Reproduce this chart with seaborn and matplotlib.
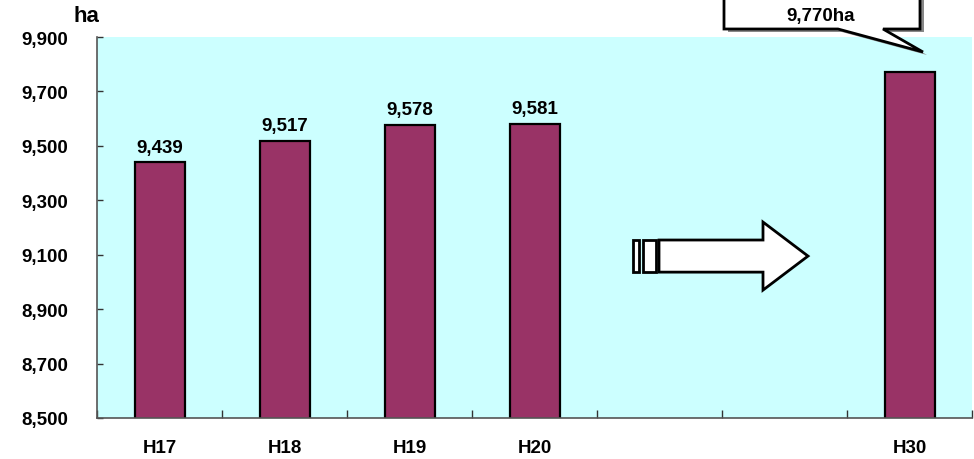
import matplotlib
matplotlib.use("Agg")
import matplotlib.pyplot as plt
import matplotlib.patches as mpatches
from matplotlib.ticker import FuncFormatter, FixedLocator
import seaborn as sns
import pandas as pd

# Planted area (ha) by fiscal year; two empty slots before the target year
slots = ["H17", "H18", "H19", "H20", "", " ", "H30"]
years = ["H17", "H18", "H19", "H20", "H30"]
area_ha = [9439, 9517, 9578, 9581, 9770]
target_label = "9,770ha"
unit_label = "ha"

df = pd.DataFrame({"year": years, "area": area_ha})

sns.set_theme(style="white")
plt.rcParams["font.family"] = ["Liberation Sans", "DejaVu Sans"]
plt.rcParams["font.weight"] = "bold"
plt.rcParams["text.color"] = "black"
plt.rcParams["xtick.color"] = "black"
plt.rcParams["ytick.color"] = "black"

FS = 13.5

W, H = 974, 460
fig = plt.figure(figsize=(W / 100, H / 100), dpi=100)
ax = fig.add_axes([97 / W, (H - 419) / H, (972 - 97) / W, (419 - 38) / H])
ax.set_facecolor("#CCFFFF")

sns.barplot(data=df, x="year", y="area", order=slots, color="#993366",
            saturation=1, width=0.4, edgecolor="black", linewidth=1.6, ax=ax)

ax.set_ylim(8500, 9900)
ax.set_xlim(-0.5, len(slots) - 0.5)
ax.set_yticks(range(8500, 9901, 200))
ax.yaxis.set_major_formatter(FuncFormatter(lambda v, p: f"{int(v):,}"))
ax.set_xlabel("")
ax.set_ylabel("")

# value labels for the historical years
for yr, v in zip(years, area_ha):
    if yr == "H30":
        continue
    ax.annotate(f"{v:,}", (slots.index(yr), v), xytext=(0, 5),
                textcoords="offset points", ha="center", va="bottom",
                fontsize=FS, fontweight="bold", color="black")

for s in ["top", "right"]:
    ax.spines[s].set_visible(False)
for s in ["left", "bottom"]:
    ax.spines[s].set_color("#555555")
    ax.spines[s].set_linewidth(1.2)

ax.tick_params(axis="y", direction="in", length=4, width=1, color="#333333",
               labelsize=FS, pad=21, left=True, labelcolor="black")
for lbl in ax.get_yticklabels():
    lbl.set_fontweight("bold")
ax.tick_params(axis="x", which="major", length=0, labelsize=FS, pad=15,
               labelcolor="black")
for lbl in ax.get_xticklabels():
    lbl.set_fontweight("bold")
ax.xaxis.set_minor_locator(FixedLocator([i - 0.5 for i in range(len(slots) + 1)]))
ax.tick_params(axis="x", which="minor", direction="in", length=6, width=1,
               color="#333333", bottom=True)

# unit label
fig.text(86 / W, 1 - 16 / H, unit_label, ha="center", va="center",
         fontsize=16, fontweight="bold", color="black")

# block arrow pointing toward the target year
def arrow_part(xs, ys):
    ax.add_patch(mpatches.Polygon(list(zip(xs, ys)), closed=True,
                                  facecolor="white", edgecolor="black",
                                  linewidth=2, zorder=4))

y_top, y_bot = 9154, 9036
arrow_part([3.788, 3.836, 3.836, 3.788], [y_top, y_top, y_bot, y_bot])
arrow_part([3.868, 3.972, 3.972, 3.868], [y_top, y_top, y_bot, y_bot])
arrow_part([3.996, 4.828, 4.828, 5.188, 4.828, 4.828, 3.996],
           [y_top, y_top, 9220, 9095, 8970, y_bot, y_bot])

# callout bubble above the target bar (figure pixel coordinates)
def fpt(px, py):
    return (px / W, 1 - py / H)

bubble = [(724, -20), (920, -20), (920, 30), (883, 30), (923, 53),
          (838, 30), (724, 30)]
shadow = [fpt(x + 4, y + 3) for x, y in bubble]
fig.patches.append(mpatches.Polygon(shadow, closed=True, transform=fig.transFigure,
                                    facecolor="#888888", edgecolor="none",
                                    zorder=5))
fig.patches.append(mpatches.Polygon([fpt(x, y) for x, y in bubble], closed=True,
                                    transform=fig.transFigure, facecolor="white",
                                    edgecolor="black", linewidth=2, zorder=6))
fig.text(*fpt(821, 17), target_label, ha="center", va="center",
         fontsize=FS, fontweight="bold", color="black", zorder=7)

fig.savefig("out.png", dpi=100)
